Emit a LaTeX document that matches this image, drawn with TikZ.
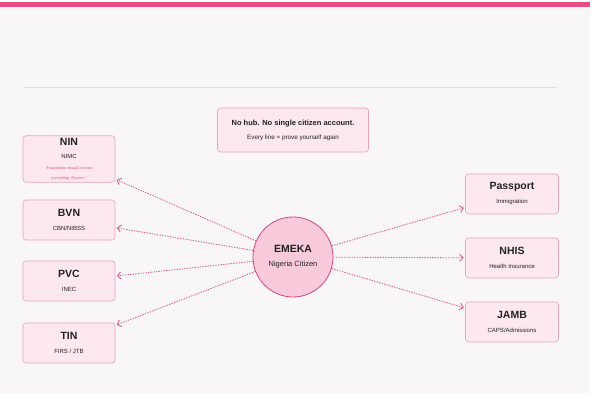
\documentclass[tikz,border=0pt]{standalone}
\usepackage{fontspec}
\setmainfont{Liberation Serif}
\setsansfont{Liberation Sans}
\usetikzlibrary{arrows.meta, positioning}
\definecolor{pinkbar}{HTML}{EA4C86}
\definecolor{bgpage}{HTML}{F8F6F7}
\definecolor{cardfill}{HTML}{FDE8EF}
\definecolor{cardline}{HTML}{E9A3BC}
\definecolor{hubfill}{HTML}{F9CADB}
\definecolor{hubline}{HTML}{D8467C}
\definecolor{arrowpink}{HTML}{D9548A}
\definecolor{inktxt}{HTML}{222222}
\newcommand{\quotetxt}{\rmfamily\fontsize{4.2}{4.6}\selectfont\itshape\color{hubline}}

\begin{document}
\begin{tikzpicture}[
    x=1pt, y=-1pt,
    card/.style = {rectangle, rounded corners=3pt, draw=cardline, fill=cardfill,
                   line width=0.6pt, minimum width=92pt, minimum height=40pt,
                   align=center, text=inktxt, inner sep=2pt},
    hub/.style = {circle, draw=hubline, fill=hubfill, line width=0.8pt,
                  minimum size=80pt, align=center, text=inktxt},
    pil/.style = {arrowpink, dash pattern=on 1.3pt off 1.3pt, line width=0.85pt,
                  shorten >=1.5pt, -{Straight Barb[length=3.5pt,width=7pt]}},
    font=\sffamily
    ]

  \useasboundingbox (0,0) rectangle (595,403);
  \fill[bgpage] (0,6) rectangle (590,393);
  \fill[pinkbar] (0,2) rectangle (590,7);
  \draw[black!12, line width=0.8pt] (23,87) -- (557,87);

  \node[card, minimum width=151pt, minimum height=44pt] (note) at (293,130)
    {{\fontsize{7.5}{8}\selectfont\bfseries No hub. No single citizen account.}\\[2pt]
     {\fontsize{6.3}{7}\selectfont Every line = prove yourself again}};

  \node[hub] (emeka) at (293,257)
    {{\fontsize{10.5}{11}\selectfont\bfseries EMEKA}\\[2pt]{\fontsize{7.5}{8}\selectfont Nigeria Citizen}};

  % left column
  \node[card, minimum height=42pt] (nin) at (69,159)
    {{\fontsize{10.5}{10}\selectfont\bfseries NIN}\\[1pt]
     {\fontsize{6}{6}\selectfont NIMC}\\[-0.5pt]
     {\quotetxt `Foundation should connect}\\[-2.2pt]
     {\quotetxt everything. Doesn't.'}};
  \node[card] (bvn) at (69,220)
    {{\fontsize{10.5}{10}\selectfont\bfseries BVN}\\[2pt]{\fontsize{6}{6}\selectfont CBN/NIBSS}};
  \node[card] (pvc) at (69,281)
    {{\fontsize{10.5}{10}\selectfont\bfseries PVC}\\[2pt]{\fontsize{6}{6}\selectfont INEC}};
  \node[card] (tin) at (69,343)
    {{\fontsize{10.5}{10}\selectfont\bfseries TIN}\\[2pt]{\fontsize{6}{6}\selectfont FIRS / JTB}};

  % right column
  \node[card, minimum width=93pt] (passport) at (512,194)
    {{\fontsize{10.5}{10}\selectfont\bfseries Passport}\\[2pt]{\fontsize{6}{6}\selectfont Immigration}};
  \node[card, minimum width=93pt] (nhis) at (512,258)
    {{\fontsize{10.5}{10}\selectfont\bfseries NHIS}\\[2pt]{\fontsize{6}{6}\selectfont Health Insurance}};
  \node[card, minimum width=93pt] (jamb) at (512,322)
    {{\fontsize{10.5}{10}\selectfont\bfseries JAMB}\\[2pt]{\fontsize{6}{6}\selectfont CAPS/Admissions}};

  \draw[pil]
  (emeka) edge (nin)
  (emeka) edge (bvn)
  (emeka) edge (pvc)
  (emeka) edge (tin)
  (emeka) edge (passport)
  (emeka) edge (nhis)
  (emeka) edge (jamb);
\end{tikzpicture}
\end{document}
